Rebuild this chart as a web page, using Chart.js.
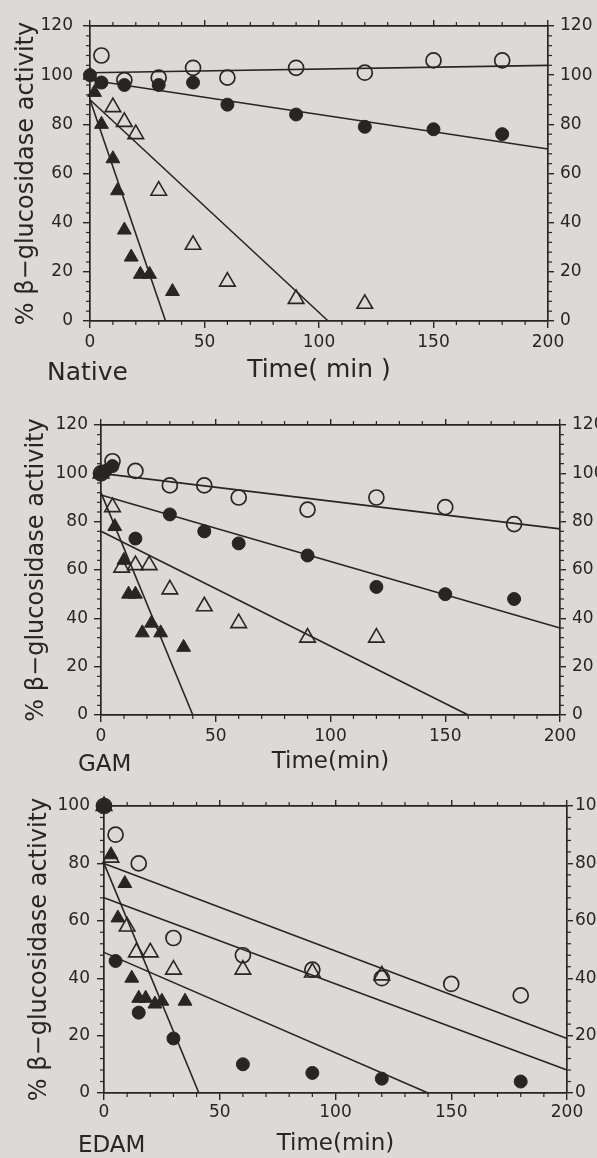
<!DOCTYPE html>
<html>
<head>
<meta charset="utf-8">
<script src="https://cdn.jsdelivr.net/npm/chart.js@4.4.1/dist/chart.umd.min.js"></script>
<style>
  html, body { margin: 0; padding: 0; background: #dcdad7; width: 597px; height: 1158px; overflow: hidden; }
  canvas { position: absolute; left: 0; }
</style>
</head>
<body>
<canvas id="native" width="640" height="392" style="top:0px"></canvas>
<canvas id="gam" width="640" height="394" style="top:392px"></canvas>
<canvas id="edam" width="640" height="372" style="top:786px"></canvas>
<script>
// ---- Native ----
const nativeOpenCircleT = [5, 15, 30, 45, 60, 90, 120, 150, 180];
const nativeOpenCircleV = [108, 98, 99, 103, 99, 103, 101, 106, 106];
const nativeFilledCircleT = [0, 5, 15, 30, 45, 60, 90, 120, 150, 180];
const nativeFilledCircleV = [100, 97, 96, 96, 97, 88, 84, 79, 78, 76];
const nativeOpenTriangleT = [10, 15, 20, 30, 45, 60, 90, 120];
const nativeOpenTriangleV = [87, 81, 76, 53, 31, 16, 9, 7];
const nativeFilledTriangleT = [0, 2, 5, 10, 12, 15, 18, 22, 26, 36];
const nativeFilledTriangleV = [100, 93, 80, 66, 53, 37, 26, 19, 19, 12];
// fitted lines: [start, end] for each
const nativeFitT = [[0, 200], [0, 200], [0, 104], [0, 33]];
const nativeFitV = [[101, 104], [98, 70], [90, 0], [90, 0]];

// ---- GAM ----
const gamOpenCircleT = [0, 5, 15, 30, 45, 60, 90, 120, 150, 180];
const gamOpenCircleV = [100, 105, 101, 95, 95, 90, 85, 90, 86, 79];
const gamFilledCircleT = [0, 2, 5, 15, 30, 45, 60, 90, 120, 150, 180];
const gamFilledCircleV = [100, 101, 103, 73, 83, 76, 71, 66, 53, 50, 48];
const gamOpenTriangleT = [0, 5, 9, 15, 21, 30, 45, 60, 90, 120];
const gamOpenTriangleV = [100, 86, 61, 62, 62, 52, 45, 38, 32, 32];
const gamFilledTriangleT = [0, 6, 10, 12, 15, 18, 22, 26, 36];
const gamFilledTriangleV = [100, 78, 64, 50, 50, 34, 38, 34, 28];
const gamFitT = [[0, 200], [0, 200], [0, 160], [0, 40]];
const gamFitV = [[100, 77], [91, 36], [76, 0], [92, 0]];

// ---- EDAM ----
const edamOpenCircleT = [0, 5, 15, 30, 60, 90, 120, 150, 180];
const edamOpenCircleV = [100, 90, 80, 54, 48, 43, 40, 38, 34];
const edamFilledCircleT = [0, 5, 15, 30, 60, 90, 120, 180];
const edamFilledCircleV = [100, 46, 28, 19, 10, 7, 5, 4];
const edamOpenTriangleT = [0, 3, 10, 14, 20, 30, 60, 90, 120];
const edamOpenTriangleV = [100, 82, 58, 49, 49, 43, 43, 42, 41];
const edamFilledTriangleT = [0, 3, 6, 9, 12, 15, 18, 22, 25, 35];
const edamFilledTriangleV = [100, 83, 61, 73, 40, 33, 33, 31, 32, 32];
const edamFitT = [[0, 200], [0, 200], [0, 140], [0, 41]];
const edamFitV = [[80, 19], [68, 8], [49, 0], [80, 0]];

const yTitle = '% β−glucosidase activity';
const FONT = 'DejaVu Sans';
const INK = '#282523';

function pts(xs, ys) {
  return xs.map((x, i) => ({ x: x, y: ys[i] }));
}

const markerStyles = {
  openCircle: { pointStyle: 'circle', pointRadius: 7.5, pointBackgroundColor: 'rgba(0,0,0,0)', pointBorderColor: INK, pointBorderWidth: 1.7 },
  filledCircle: { pointStyle: 'circle', pointRadius: 6.5, pointBackgroundColor: INK, pointBorderColor: INK, pointBorderWidth: 1 },
  openTriangle: { pointStyle: 'triangle', pointRadius: 9, pointBackgroundColor: 'rgba(0,0,0,0)', pointBorderColor: INK, pointBorderWidth: 1.6 },
  filledTriangle: { pointStyle: 'triangle', pointRadius: 8, pointBackgroundColor: INK, pointBorderColor: INK, pointBorderWidth: 1 }
};

function scatterSet(style, xs, ys) {
  return Object.assign({ type: 'scatter', data: pts(xs, ys), showLine: false, clip: false }, markerStyles[style]);
}

function fitSets(ts, vs) {
  return ts.map((t, i) => ({
    type: 'line', data: pts(t, vs[i]), borderColor: INK, borderWidth: 1.6,
    pointRadius: 0, fill: false, tension: 0, clip: false
  }));
}

// short in-between ticks on every axis, placed through the scale itself
const minorTicks = {
  id: 'minorTicks',
  afterDraw(chart, args, opts) {
    const ctx = chart.ctx;
    ctx.save();
    ctx.strokeStyle = INK;
    ctx.lineWidth = 1.2;
    Object.values(chart.scales).forEach(s => {
      const horiz = s.isHorizontal();
      const step = horiz ? opts.xStep : opts.yStep;
      const major = horiz ? opts.xMajor : opts.yMajor;
      const len = opts.len;
      for (let v = s.min; v <= s.max; v += step) {
        if (v % major === 0) continue;
        const p = s.getPixelForValue(v);
        ctx.beginPath();
        if (s.position === 'left') { ctx.moveTo(s.right, p); ctx.lineTo(s.right - len, p); }
        else if (s.position === 'right') { ctx.moveTo(s.left, p); ctx.lineTo(s.left + len, p); }
        else if (s.position === 'bottom') { ctx.moveTo(p, s.top); ctx.lineTo(p, s.top + len); }
        else { ctx.moveTo(p, s.bottom); ctx.lineTo(p, s.bottom - len); }
        ctx.stroke();
      }
    });
    ctx.restore();
  }
};

const panelName = {
  id: 'panelName',
  afterDraw(chart, args, opts) {
    const ctx = chart.ctx;
    ctx.save();
    ctx.fillStyle = INK;
    ctx.font = opts.size + 'px "' + FONT + '"';
    ctx.textBaseline = 'middle';
    ctx.textAlign = 'left';
    ctx.fillText(opts.text, opts.x, opts.y);
    ctx.restore();
  }
};

function makePanel(id, p) {
  const canvas = document.getElementById(id);
  const W = canvas.width, H = canvas.height;
  const tickFont = { family: FONT, size: 17 };
  const base = (min, max, step, len) => ({
    type: 'linear', min: min, max: max,
    border: { display: true, color: INK, width: 1.7 },
    grid: { drawOnChartArea: false, drawTicks: true, tickLength: len, color: INK, lineWidth: 1.4 },
    ticks: { stepSize: step, color: INK, font: tickFont, padding: 0 }
  });

  const x = base(0, 200, 50, 7);
  x.position = 'bottom';
  x.ticks.padding = p.xTickPad;
  x.title = { display: true, text: p.xTitle, color: INK, font: { family: FONT, size: p.titleSize }, padding: { top: 0, bottom: p.xTitlePad } };
  x.afterFit = s => { s.height = H - p.area.bottom; };

  const x2 = base(0, 200, 50, 6);
  x2.position = 'top';
  x2.ticks.display = false;
  x2.afterFit = s => { s.height = p.area.top; };

  const y = base(0, p.yMax, 20, 7);
  y.position = 'left';
  y.ticks.padding = p.yTickPad;
  y.title = { display: true, text: yTitle, color: INK, font: { family: FONT, size: 24 }, padding: { top: p.yTitlePad, bottom: 0 } };
  y.afterFit = s => { s.width = p.area.left; };

  const y2 = base(0, p.yMax, 20, 6);
  y2.position = 'right';
  y2.ticks.padding = p.rightTickPad;
  y2.afterFit = s => { s.width = W - p.area.right; };

  const datasets = fitSets(p.fitT, p.fitV).concat([
    scatterSet('openCircle', p.oc[0], p.oc[1]),
    scatterSet('filledCircle', p.fc[0], p.fc[1]),
    scatterSet('openTriangle', p.ot[0], p.ot[1]),
    scatterSet('filledTriangle', p.ft[0], p.ft[1])
  ]);

  new Chart(canvas, {
    type: 'scatter',
    data: { datasets: datasets },
    options: {
      responsive: false,
      animation: false,
      devicePixelRatio: 1,
      layout: { padding: 0 },
      plugins: {
        legend: { display: false },
        tooltip: { enabled: false },
        minorTicks: { xStep: 10, xMajor: 50, yStep: 4, yMajor: 20, len: 4 },
        panelName: { text: p.name, x: p.nameX, y: p.nameY, size: p.titleSize }
      },
      scales: { x: x, x2: x2, y: y, y2: y2 }
    },
    plugins: [minorTicks, panelName]
  });
}

makePanel('native', {
  area: { left: 90, right: 548, top: 26, bottom: 321 },
  yMax: 120, xTitle: 'Time( min )', titleSize: 25, xTitlePad: 7, xTickPad: 4,
  yTickPad: 10, yTitlePad: 12, rightTickPad: 6,
  name: 'Native', nameX: 47, nameY: 373,
  oc: [nativeOpenCircleT, nativeOpenCircleV], fc: [nativeFilledCircleT, nativeFilledCircleV],
  ot: [nativeOpenTriangleT, nativeOpenTriangleV], ft: [nativeFilledTriangleT, nativeFilledTriangleV],
  fitT: nativeFitT, fitV: nativeFitV
});

makePanel('gam', {
  area: { left: 101, right: 560, top: 33, bottom: 323 },
  yMax: 120, xTitle: 'Time(min)', titleSize: 23, xTitlePad: 10, xTickPad: 4,
  yTickPad: 6, yTitlePad: 22, rightTickPad: 6,
  name: 'GAM', nameX: 78, nameY: 373,
  oc: [gamOpenCircleT, gamOpenCircleV], fc: [gamFilledCircleT, gamFilledCircleV],
  ot: [gamOpenTriangleT, gamOpenTriangleV], ft: [gamFilledTriangleT, gamFilledTriangleV],
  fitT: gamFitT, fitV: gamFitV
});

makePanel('edam', {
  area: { left: 104, right: 567, top: 20, bottom: 307 },
  yMax: 100, xTitle: 'Time(min)', titleSize: 23, xTitlePad: 0, xTickPad: 2,
  yTickPad: 7, yTitlePad: 25, rightTickPad: 2,
  name: 'EDAM', nameX: 78, nameY: 360,
  oc: [edamOpenCircleT, edamOpenCircleV], fc: [edamFilledCircleT, edamFilledCircleV],
  ot: [edamOpenTriangleT, edamOpenTriangleV], ft: [edamFilledTriangleT, edamFilledTriangleV],
  fitT: edamFitT, fitV: edamFitV
});
</script>
</body>
</html>
